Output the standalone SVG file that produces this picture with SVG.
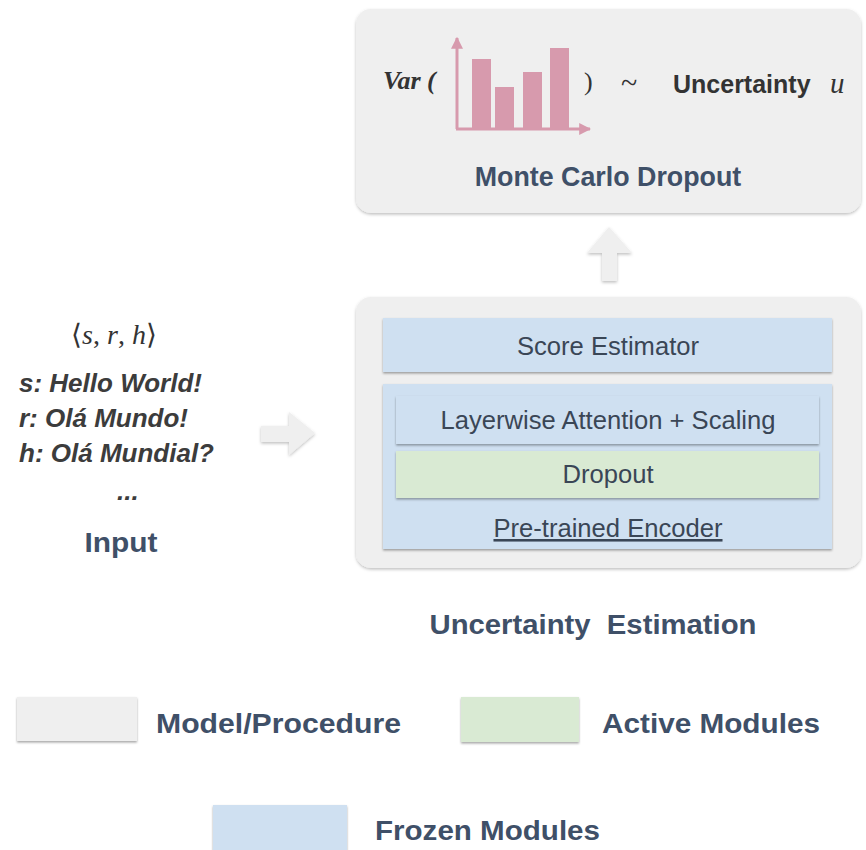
<svg xmlns="http://www.w3.org/2000/svg" width="866" height="850" viewBox="0 0 866 850">
  <defs>
    <filter id="shadow" x="-10%" y="-10%" width="120%" height="130%">
      <feDropShadow dx="0" dy="1.5" stdDeviation="1.3" flood-color="#000" flood-opacity="0.35"/>
    </filter>
    <filter id="softShadow" x="-10%" y="-10%" width="120%" height="130%">
      <feDropShadow dx="0" dy="1.5" stdDeviation="1.5" flood-color="#000" flood-opacity="0.25"/>
    </filter>
    <marker id="axisHead" viewBox="0 0 10 10" refX="9" refY="5" markerWidth="4" markerHeight="4" orient="auto">
      <path d="M0,0 L10,5 L0,10 z" fill="#d79aad"/>
    </marker>
  </defs>
  <style>
    .panel { fill: #efefef; filter: url(#softShadow); }
    .frozen { fill: #cfe0f1; filter: url(#shadow); }
    .active { fill: #d9ead3; filter: url(#shadow); }
    .flow { fill: #efefef; filter: url(#softShadow); }
    .module { font-family: "Liberation Sans", Arial, sans-serif; font-size: 25.6px; fill: #3a4656; text-anchor: middle; }
    .title { font-family: "Liberation Sans", Arial, sans-serif; font-weight: bold; fill: #3f5068; }
    .legend { font-family: "Liberation Sans", Arial, sans-serif; font-weight: bold; font-size: 28px; fill: #3f5068; }
    .sample { font-family: "Liberation Sans", Arial, sans-serif; font-weight: bold; font-style: italic; font-size: 26px; fill: #3c3c3c; }
    .math { font-family: "Liberation Serif", "Times New Roman", serif; fill: #333; }
    .bar { fill: #d79aad; }
    .axis { stroke: #d79aad; stroke-width: 3; fill: none; }
  </style>

  <rect width="866" height="850" fill="#ffffff"/>

  <!-- Monte Carlo dropout panel -->
  <g id="monte-carlo-dropout">
    <rect class="panel" x="356" y="9" width="505" height="204" rx="15"/>
    <text class="math" x="383" y="89" font-size="26" font-weight="bold" font-style="italic">Var (</text>
    <g id="histogram">
      <rect class="bar" x="472" y="59" width="19" height="69"/>
      <rect class="bar" x="495" y="87" width="19" height="41"/>
      <rect class="bar" x="523" y="72" width="19" height="56"/>
      <rect class="bar" x="550" y="48" width="19" height="80"/>
      <line class="axis" x1="457" y1="129" x2="457" y2="38" marker-end="url(#axisHead)"/>
      <line class="axis" x1="456" y1="129" x2="590" y2="129" marker-end="url(#axisHead)"/>
    </g>
    <text class="math" x="584" y="90" font-size="26">)</text>
    <text class="math" x="621" y="93" font-size="30">~</text>
    <text x="673" y="93" font-family="Liberation Sans, Arial, sans-serif" font-weight="bold" font-size="25" fill="#333">Uncertainty</text>
    <text class="math" x="830" y="93" font-size="29" font-style="italic">u</text>
    <text class="title" x="608" y="186" font-size="26.8" text-anchor="middle">Monte Carlo Dropout</text>
  </g>

  <!-- Uncertainty estimation model -->
  <g id="uncertainty-estimation">
    <rect class="panel" x="356" y="297" width="505" height="271" rx="15"/>
    <g id="score-estimator">
      <rect class="frozen" x="383" y="318" width="449" height="54"/>
      <text class="module" x="608" y="355">Score Estimator</text>
    </g>
    <g id="pretrained-encoder">
      <rect class="frozen" x="383" y="384" width="449" height="165"/>
      <text class="module" x="608" y="537" text-decoration="underline">Pre-trained Encoder</text>
    </g>
    <g id="layerwise-attention">
      <rect class="frozen" x="396" y="396" width="423" height="48"/>
      <text class="module" x="608" y="429">Layerwise Attention + Scaling</text>
    </g>
    <g id="dropout">
      <rect class="active" x="396" y="451" width="423" height="47"/>
      <text class="module" x="608" y="483">Dropout</text>
    </g>
    <text class="title" x="593" y="634" font-size="28" text-anchor="middle" textLength="327" lengthAdjust="spacingAndGlyphs" xml:space="preserve">Uncertainty  Estimation</text>
  </g>

  <!-- Input triplet -->
  <g id="input">
    <text class="math" x="114" y="344" font-size="28" text-anchor="middle"><tspan>⟨</tspan><tspan font-style="italic">s</tspan><tspan>, </tspan><tspan font-style="italic">r</tspan><tspan>, </tspan><tspan font-style="italic">h</tspan><tspan>⟩</tspan></text>
    <text class="sample" x="19" y="392">s: Hello World!</text>
    <text class="sample" x="19" y="427">r: Olá Mundo!</text>
    <text class="sample" x="19" y="462">h: Olá Mundial?</text>
    <text class="sample" x="117" y="500">...</text>
    <text class="title" x="121" y="552" font-size="28" text-anchor="middle" textLength="73" lengthAdjust="spacingAndGlyphs">Input</text>
  </g>

  <!-- Flow arrows -->
  <g id="connectors">
    <polygon class="flow" points="315,433 289,455 289,442 261,442 261,426 289,426 289,412"/>
    <polygon class="flow" points="609,227 632,253 617,253 617,281 602,281 602,253 587,253"/>
  </g>

  <!-- Legend -->
  <g id="legend-model">
    <rect class="panel" x="17" y="697" width="120" height="44" style="filter:url(#shadow)"/>
    <text class="legend" x="156" y="733" textLength="245" lengthAdjust="spacingAndGlyphs">Model/Procedure</text>
  </g>
  <g id="legend-active">
    <rect class="active" x="461" y="697" width="118" height="45"/>
    <text class="legend" x="602" y="733" textLength="218" lengthAdjust="spacingAndGlyphs">Active Modules</text>
  </g>
  <g id="legend-frozen">
    <rect class="frozen" x="213" y="805" width="134" height="50"/>
    <text class="legend" x="375" y="840" textLength="225" lengthAdjust="spacingAndGlyphs">Frozen Modules</text>
  </g>
</svg>
